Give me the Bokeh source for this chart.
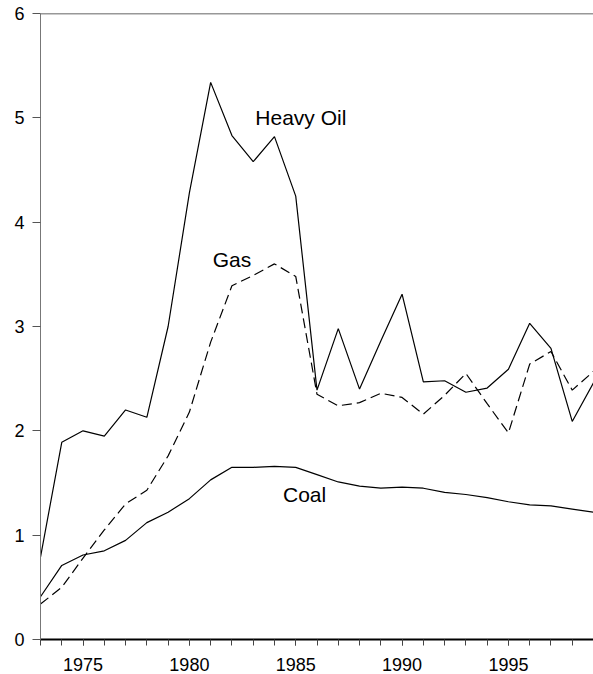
from bokeh.plotting import figure
from bokeh.models import Range1d, FixedTicker, Span, Label
from bokeh.embed import file_html
from bokeh.resources import INLINE

years = list(range(1973, 2000))
heavy_oil = [0.79, 1.89, 2.00, 1.95, 2.20, 2.13, 3.00, 4.28, 5.34, 4.83, 4.58, 4.82, 4.25,
             2.39, 2.98, 2.40, 2.86, 3.31, 2.47, 2.48, 2.37, 2.41, 2.59, 3.03, 2.79, 2.09, 2.46]
gas = [0.34, 0.50, 0.78, 1.05, 1.30, 1.43, 1.76, 2.18, 2.85, 3.39, 3.49, 3.60, 3.48,
       2.35, 2.24, 2.27, 2.36, 2.32, 2.16, 2.34, 2.55, 2.26, 1.98, 2.64, 2.76, 2.39, 2.57]
coal = [0.41, 0.71, 0.81, 0.85, 0.95, 1.12, 1.22, 1.35, 1.53, 1.65, 1.65, 1.66, 1.65,
        1.58, 1.51, 1.47, 1.45, 1.46, 1.45, 1.41, 1.39, 1.36, 1.32, 1.29, 1.28, 1.25, 1.22]
x_major_ticks = [1975, 1980, 1985, 1990, 1995]
y_ticks = [0, 1, 2, 3, 4, 5, 6]

FONT = "Liberation Sans"

p = figure(width=593, height=674, output_backend="svg", toolbar_location=None,
           x_range=Range1d(1973, 1999), y_range=Range1d(0, 6),
           min_border_left=40, min_border_top=13, min_border_right=0, min_border_bottom=35)
p.grid.visible = False
p.outline_line_color = None
p.background_fill_color = "white"
p.border_fill_color = "white"

# x axis
xa = p.xaxis[0]
xa.ticker = FixedTicker(ticks=x_major_ticks, minor_ticks=years)
xa.axis_line_color = "black"
xa.axis_line_width = 2
xa.major_tick_in = 0
xa.major_tick_out = 6
xa.minor_tick_in = 0
xa.minor_tick_out = 6
xa.major_tick_line_color = "#444444"
xa.minor_tick_line_color = "#444444"
xa.major_label_text_font = FONT
xa.major_label_text_font_size = "18px"
xa.major_label_text_color = "black"
xa.major_label_standoff = 12

# y axis
ya = p.yaxis[0]
ya.ticker = FixedTicker(ticks=y_ticks)
ya.axis_line_color = "#777777"
ya.axis_line_width = 1
ya.major_tick_in = 0
ya.major_tick_out = 8
ya.minor_tick_line_color = None
ya.major_tick_line_color = "#555555"
ya.major_label_text_font = FONT
ya.major_label_text_font_size = "18px"
ya.major_label_text_color = "black"
ya.major_label_standoff = 8

# top border line
p.add_layout(Span(location=6, dimension="width", line_color="#333333", line_width=1.5))

p.line(years, heavy_oil, line_color="black", line_width=1.2)
p.line(years, gas, line_color="black", line_width=1.2, line_dash="10 5")
p.line(years, coal, line_color="black", line_width=1.2)

for x, y, t in [(1983.1, 5.0, "Heavy Oil"), (1981.1, 3.64, "Gas"), (1984.4, 1.39, "Coal")]:
    p.add_layout(Label(x=x, y=y, text=t, text_font=FONT, text_font_size="21px",
                       text_baseline="middle", text_align="left", text_color="black"))

open("out.html", "w").write(file_html(p, INLINE))
